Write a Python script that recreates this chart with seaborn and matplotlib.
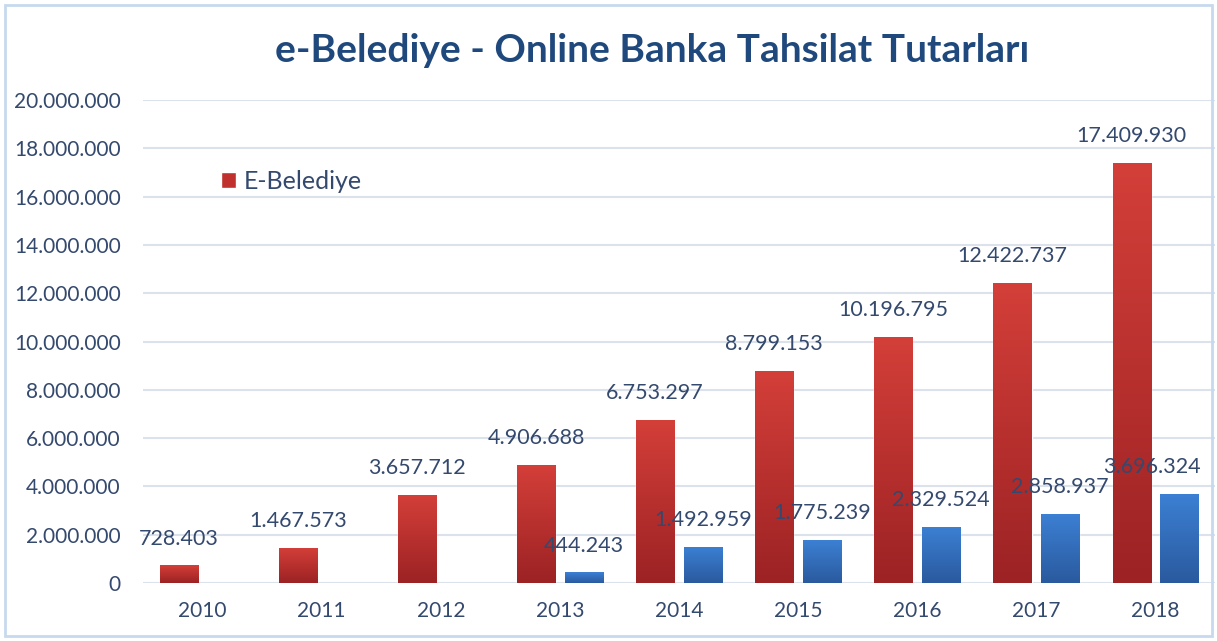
import numpy as np
import pandas as pd
import matplotlib
matplotlib.use("Agg")
import matplotlib.pyplot as plt
import matplotlib.colors as mcolors
from matplotlib.patches import Patch, Rectangle
import seaborn as sns

# data
years = ["2010", "2011", "2012", "2013", "2014", "2015", "2016", "2017", "2018"]
e_belediye = [728403, 1467573, 3657712, 4906688, 6753297, 8799153, 10196795, 12422737, 17409930]
online_banka = [None, None, None, 444243, 1492959, 1775239, 2329524, 2858937, 3696324]
series_names = ["E-Belediye", "Online Banka"]
y_ticks = list(range(0, 20000001, 2000000))

title_text = "e-Belediye - Online Banka Tahsilat Tutarları"
text_color = "#34496e"
title_color = "#1f497d"


def fmt(v):
    return f"{v:,.0f}".replace(",", ".")


rows = []
for y, a, b in zip(years, e_belediye, online_banka):
    rows.append({"year": y, "series": series_names[0], "value": a})
    if b is not None:
        rows.append({"year": y, "series": series_names[1], "value": b})
df = pd.DataFrame(rows)

sns.set_theme(style="white")
plt.rcParams["font.family"] = ["Lato", "DejaVu Sans"]

fig = plt.figure(figsize=(12.17, 6.41), dpi=100)
ax = fig.add_axes([143 / 1217, 1 - 583 / 641, (1215 - 143) / 1217, 483 / 641])

palette = {series_names[0]: "#c0302c", series_names[1]: "#336cbc"}
sns.barplot(data=df, x="year", y="value", hue="series", order=years,
            hue_order=series_names, palette=palette, width=0.8, gap=0.2,
            saturation=1, legend=False, ax=ax, zorder=3)

# vertical gradients like the Excel fill
grads = [
    mcolors.LinearSegmentedColormap.from_list("r", ["#9c2224", "#d43f39"]),
    mcolors.LinearSegmentedColormap.from_list("b", ["#2a5a9e", "#3c80d4"]),
]
grad = np.linspace(0, 1, 256).reshape(-1, 1)
label_sets = []
for cont, cmap in zip(ax.containers, grads):
    for bar in cont:
        x0, y0 = bar.get_x(), bar.get_y()
        w, h = bar.get_width(), bar.get_height()
        if not np.isfinite(h) or h == 0:
            continue
        im = ax.imshow(grad, cmap=cmap, origin="lower", aspect="auto",
                       extent=[x0, x0 + w, y0, y0 + h], zorder=3.5)
        im.set_clip_path(bar)
    label_sets.append(ax.bar_label(cont, labels=[fmt(b.get_height()) for b in cont],
                                   padding=12, fontsize=15.5, color=text_color, zorder=5))

# Excel nudges the last label inside the chart area
last = label_sets[-1][-1]
last.xyann = (-20, 12)

ax.set_xlim(-0.5, 8.5)
ax.set_ylim(0, 20000000)
ax.set_yticks(y_ticks)
ax.set_yticklabels([fmt(v) for v in y_ticks])
ax.yaxis.grid(True, color="#dbe2ec", linewidth=1.5, zorder=0)
ax.set_axisbelow(True)
for s in ax.spines.values():
    s.set_visible(False)
ax.tick_params(axis="y", length=0, pad=16, labelsize=15, labelcolor=text_color)
ax.tick_params(axis="x", length=0, pad=13, labelsize=15, labelcolor=text_color)
ax.set_xlabel("")
ax.set_ylabel("")

ax.legend(handles=[Patch(facecolor=palette[series_names[0]], label=series_names[0])],
          loc="center left", bbox_to_anchor=(0.0615, 0.832), frameon=False,
          handlelength=0.6, handleheight=0.6, handletextpad=0.3, borderpad=0,
          fontsize=18, labelcolor=text_color)

fig.text(652 / 1217, 1 - 50 / 641, title_text, ha="center", va="center",
         fontsize=28, fontweight="bold", color=title_color)

fig.patches.append(Rectangle((5 / 1217, 5 / 641), 1207 / 1217, 631 / 641,
                             transform=fig.transFigure, fill=False,
                             edgecolor="#c6d9ef", linewidth=2))

fig.savefig("out.png", dpi=100, facecolor="white")
